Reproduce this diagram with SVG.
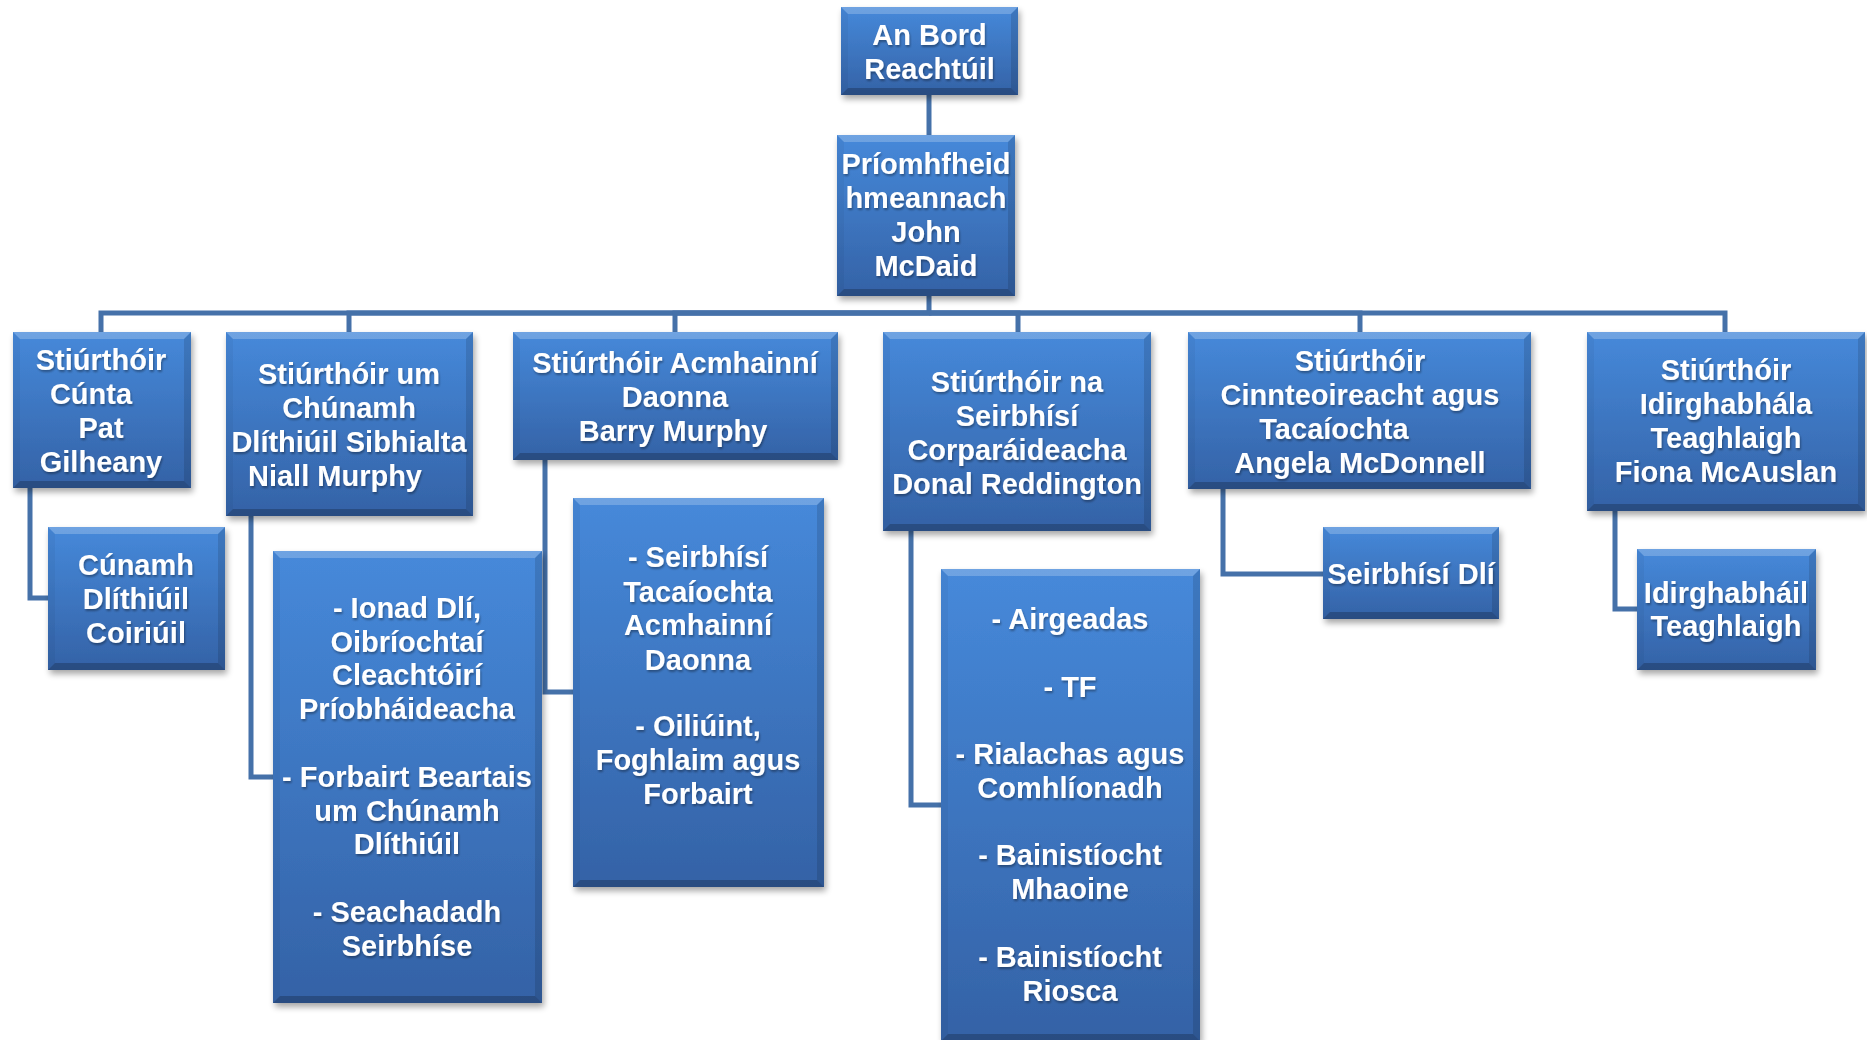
<svg xmlns="http://www.w3.org/2000/svg" width="1867" height="1040" viewBox="0 0 1867 1040">
<defs>
<linearGradient id="face" x1="0" y1="0" x2="0" y2="1">
<stop offset="0" stop-color="#4689DA"/>
<stop offset="1" stop-color="#3462A6"/>
</linearGradient>
<filter id="shadow" x="-10%" y="-10%" width="120%" height="125%">
<feGaussianBlur in="SourceAlpha" stdDeviation="3"/>
<feOffset dx="2" dy="4" result="b"/>
<feComponentTransfer><feFuncA type="linear" slope="0.35"/></feComponentTransfer>
<feMerge><feMergeNode/><feMergeNode in="SourceGraphic"/></feMerge>
</filter>
<filter id="tshadow" x="-5%" y="-20%" width="110%" height="140%">
<feGaussianBlur in="SourceAlpha" stdDeviation="1"/>
<feOffset dx="1" dy="1.5"/>
<feComponentTransfer><feFuncA type="linear" slope="0.35"/></feComponentTransfer>
<feMerge><feMergeNode/><feMergeNode in="SourceGraphic"/></feMerge>
</filter>
</defs>
<style>
.face{fill:url(#face);}
.bt{fill:#ffffff;fill-opacity:0.22;}
.bb{fill:#000000;fill-opacity:0.22;}
.bl{fill:#000000;fill-opacity:0.04;}
.br{fill:#000000;fill-opacity:0.12;}
.box{filter:url(#shadow);}
text{font-family:"Liberation Sans",Arial,sans-serif;font-weight:bold;font-size:29px;fill:#ffffff;text-anchor:middle;filter:url(#tshadow);}
.conn path{fill:none;stroke:#4571A9;stroke-width:5;stroke-linejoin:miter;}
</style>
<rect width="1867" height="1040" fill="#ffffff"/>
<g id="connectors" class="conn">
<path d="M929 95 V135"/>
<path d="M929 296 V313 H101 V332"/>
<path d="M929 313 H349 V332"/>
<path d="M929 313 H675 V332"/>
<path d="M929 313 H1018 V332"/>
<path d="M929 313 H1360 V332"/>
<path d="M929 313 H1725 V332"/>
<path d="M30 488 V598 H48"/>
<path d="M251 516 V777 H273"/>
<path d="M545 460 V692 H573"/>
<path d="M911 531 V805 H941"/>
<path d="M1223 489 V574 H1323"/>
<path d="M1615 511 V609 H1637"/>
</g>
<g id="bord">
<g class="box"><rect class="face" x="841" y="7" width="177" height="88"/></g>
<polygon class="bt" points="841,7 1018,7 1011,14 848,14"/>
<polygon class="bb" points="841,95 1018,95 1011,88 848,88"/>
<polygon class="bl" points="841,7 848,14 848,88 841,95"/>
<polygon class="br" points="1018,7 1011,14 1011,88 1018,95"/>
<text x="929.5" y="45">An Bord</text>
<text x="929.5" y="79">Reachtúil</text>
</g>
<g id="ceo">
<g class="box"><rect class="face" x="837" y="135" width="178" height="161"/></g>
<polygon class="bt" points="837,135 1015,135 1008,142 844,142"/>
<polygon class="bb" points="837,296 1015,296 1008,289 844,289"/>
<polygon class="bl" points="837,135 844,142 844,289 837,296"/>
<polygon class="br" points="1015,135 1008,142 1008,289 1015,296"/>
<text x="926" y="174">Príomhfheid</text>
<text x="926" y="208">hmeannach</text>
<text x="926" y="242">John</text>
<text x="926" y="276">McDaid</text>
</g>
<g id="b1">
<g class="box"><rect class="face" x="13" y="332" width="178" height="156"/></g>
<polygon class="bt" points="13,332 191,332 184,339 20,339"/>
<polygon class="bb" points="13,488 191,488 184,481 20,481"/>
<polygon class="bl" points="13,332 20,339 20,481 13,488"/>
<polygon class="br" points="191,332 184,339 184,481 191,488"/>
<text x="101" y="370">Stiúrthóir</text>
<text x="91" y="404">Cúnta</text>
<text x="101" y="438">Pat</text>
<text x="101" y="472">Gilheany</text>
</g>
<g id="b2">
<g class="box"><rect class="face" x="226" y="332" width="247" height="184"/></g>
<polygon class="bt" points="226,332 473,332 466,339 233,339"/>
<polygon class="bb" points="226,516 473,516 466,509 233,509"/>
<polygon class="bl" points="226,332 233,339 233,509 226,516"/>
<polygon class="br" points="473,332 466,339 466,509 473,516"/>
<text x="349" y="384">Stiúrthóir um</text>
<text x="349" y="418">Chúnamh</text>
<text x="349" y="452">Dlíthiúil Sibhialta</text>
<text x="335" y="486">Niall Murphy</text>
</g>
<g id="b3">
<g class="box"><rect class="face" x="513" y="332" width="325" height="128"/></g>
<polygon class="bt" points="513,332 838,332 831,339 520,339"/>
<polygon class="bb" points="513,460 838,460 831,453 520,453"/>
<polygon class="bl" points="513,332 520,339 520,453 513,460"/>
<polygon class="br" points="838,332 831,339 831,453 838,460"/>
<text x="675" y="373">Stiúrthóir Acmhainní</text>
<text x="675" y="407">Daonna</text>
<text x="673" y="441">Barry Murphy</text>
</g>
<g id="b4">
<g class="box"><rect class="face" x="883" y="332" width="268" height="199"/></g>
<polygon class="bt" points="883,332 1151,332 1144,339 890,339"/>
<polygon class="bb" points="883,531 1151,531 1144,524 890,524"/>
<polygon class="bl" points="883,332 890,339 890,524 883,531"/>
<polygon class="br" points="1151,332 1144,339 1144,524 1151,531"/>
<text x="1017" y="392">Stiúrthóir na</text>
<text x="1017" y="426">Seirbhísí</text>
<text x="1017" y="460">Corparáideacha</text>
<text x="1017" y="494">Donal Reddington</text>
</g>
<g id="b5">
<g class="box"><rect class="face" x="1188" y="332" width="343" height="157"/></g>
<polygon class="bt" points="1188,332 1531,332 1524,339 1195,339"/>
<polygon class="bb" points="1188,489 1531,489 1524,482 1195,482"/>
<polygon class="bl" points="1188,332 1195,339 1195,482 1188,489"/>
<polygon class="br" points="1531,332 1524,339 1524,482 1531,489"/>
<text x="1360" y="371">Stiúrthóir</text>
<text x="1360" y="405">Cinnteoireacht agus</text>
<text x="1334" y="439">Tacaíochta</text>
<text x="1360" y="473">Angela McDonnell</text>
</g>
<g id="b6">
<g class="box"><rect class="face" x="1587" y="332" width="278" height="179"/></g>
<polygon class="bt" points="1587,332 1865,332 1858,339 1594,339"/>
<polygon class="bb" points="1587,511 1865,511 1858,504 1594,504"/>
<polygon class="bl" points="1587,332 1594,339 1594,504 1587,511"/>
<polygon class="br" points="1865,332 1858,339 1858,504 1865,511"/>
<text x="1726" y="380">Stiúrthóir</text>
<text x="1726" y="414">Idirghabhála</text>
<text x="1726" y="448">Teaghlaigh</text>
<text x="1726" y="482">Fiona McAuslan</text>
</g>
<g id="c1">
<g class="box"><rect class="face" x="48" y="527" width="177" height="143"/></g>
<polygon class="bt" points="48,527 225,527 218,534 55,534"/>
<polygon class="bb" points="48,670 225,670 218,663 55,663"/>
<polygon class="bl" points="48,527 55,534 55,663 48,670"/>
<polygon class="br" points="225,527 218,534 218,663 225,670"/>
<text x="136" y="575">Cúnamh</text>
<text x="136" y="609">Dlíthiúil</text>
<text x="136" y="643">Coiriúil</text>
</g>
<g id="c2">
<g class="box"><rect class="face" x="273" y="551" width="269" height="452"/></g>
<polygon class="bt" points="273,551 542,551 535,558 280,558"/>
<polygon class="bb" points="273,1003 542,1003 535,996 280,996"/>
<polygon class="bl" points="273,551 280,558 280,996 273,1003"/>
<polygon class="br" points="542,551 535,558 535,996 542,1003"/>
<text x="407" y="618">- Ionad Dlí,</text>
<text x="407" y="652">Oibríochtaí</text>
<text x="407" y="685">Cleachtóirí</text>
<text x="407" y="719">Príobháideacha</text>
<text x="407" y="787">- Forbairt Beartais</text>
<text x="407" y="821">um Chúnamh</text>
<text x="407" y="854">Dlíthiúil</text>
<text x="407" y="922">- Seachadadh</text>
<text x="407" y="956">Seirbhíse</text>
</g>
<g id="c3">
<g class="box"><rect class="face" x="573" y="498" width="251" height="389"/></g>
<polygon class="bt" points="573,498 824,498 817,505 580,505"/>
<polygon class="bb" points="573,887 824,887 817,880 580,880"/>
<polygon class="bl" points="573,498 580,505 580,880 573,887"/>
<polygon class="br" points="824,498 817,505 817,880 824,887"/>
<text x="698" y="567">- Seirbhísí</text>
<text x="698" y="602">Tacaíochta</text>
<text x="698" y="635">Acmhainní</text>
<text x="698" y="670">Daonna</text>
<text x="698" y="736">- Oiliúint,</text>
<text x="698" y="770">Foghlaim agus</text>
<text x="698" y="804">Forbairt</text>
</g>
<g id="c4">
<g class="box"><rect class="face" x="941" y="569" width="259" height="472"/></g>
<polygon class="bt" points="941,569 1200,569 1193,576 948,576"/>
<polygon class="bb" points="941,1041 1200,1041 1193,1034 948,1034"/>
<polygon class="bl" points="941,569 948,576 948,1034 941,1041"/>
<polygon class="br" points="1200,569 1193,576 1193,1034 1200,1041"/>
<text x="1070" y="629">- Airgeadas</text>
<text x="1070" y="697">- TF</text>
<text x="1070" y="764">- Rialachas agus</text>
<text x="1070" y="798">Comhlíonadh</text>
<text x="1070" y="865">- Bainistíocht</text>
<text x="1070" y="899">Mhaoine</text>
<text x="1070" y="967">- Bainistíocht</text>
<text x="1070" y="1001">Riosca</text>
</g>
<g id="c5">
<g class="box"><rect class="face" x="1323" y="527" width="176" height="92"/></g>
<polygon class="bt" points="1323,527 1499,527 1492,534 1330,534"/>
<polygon class="bb" points="1323,619 1499,619 1492,612 1330,612"/>
<polygon class="bl" points="1323,527 1330,534 1330,612 1323,619"/>
<polygon class="br" points="1499,527 1492,534 1492,612 1499,619"/>
<text x="1411" y="584">Seirbhísí Dlí</text>
</g>
<g id="c6">
<g class="box"><rect class="face" x="1637" y="549" width="179" height="121"/></g>
<polygon class="bt" points="1637,549 1816,549 1809,556 1644,556"/>
<polygon class="bb" points="1637,670 1816,670 1809,663 1644,663"/>
<polygon class="bl" points="1637,549 1644,556 1644,663 1637,670"/>
<polygon class="br" points="1816,549 1809,556 1809,663 1816,670"/>
<text x="1726" y="603">Idirghabháil</text>
<text x="1726" y="636">Teaghlaigh</text>
</g>
</svg>
